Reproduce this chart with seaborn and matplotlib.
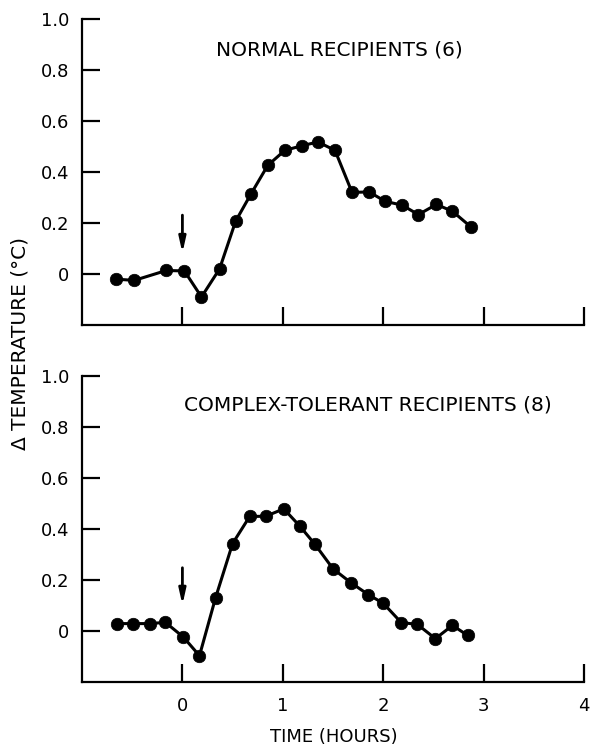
import matplotlib
matplotlib.use("Agg")
import matplotlib.pyplot as plt
import seaborn as sns
import pandas as pd

# ---- data ----
normal_time = [-0.66, -0.48, -0.16, 0.02, 0.19, 0.37, 0.53, 0.68, 0.85, 1.02, 1.19,
               1.35, 1.52, 1.69, 1.86, 2.02, 2.19, 2.35, 2.53, 2.69, 2.87]
normal_temp = [-0.02, -0.025, 0.014, 0.012, -0.09, 0.02, 0.207, 0.312, 0.426, 0.485, 0.503,
               0.518, 0.485, 0.32, 0.322, 0.285, 0.27, 0.233, 0.273, 0.246, 0.186]

tolerant_time = [-0.65, -0.49, -0.32, -0.17, 0.01, 0.17, 0.33, 0.5, 0.67, 0.83, 1.01,
                 1.17, 1.32, 1.5, 1.68, 1.85, 2.0, 2.18, 2.34, 2.52, 2.69, 2.84]
tolerant_temp = [0.029, 0.029, 0.029, 0.034, -0.024, -0.097, 0.13, 0.343, 0.449, 0.45, 0.479,
                 0.411, 0.34, 0.244, 0.189, 0.143, 0.109, 0.033, 0.026, -0.03, 0.022, -0.017]

panel_titles = ["NORMAL RECIPIENTS (6)", "COMPLEX-TOLERANT RECIPIENTS (8)"]
x_ticks = [0, 1, 2, 3, 4]
x_ticklabels = ["0", "1", "2", "3", "4"]
y_ticks = [0, 0.2, 0.4, 0.6, 0.8, 1.0]
y_ticklabels = ["0", "0.2", "0.4", "0.6", "0.8", "1.0"]
arrow_time = 0
arrow_spans = [(0.231, 0.082), (0.248, 0.102)]

sns.set_style("ticks")
plt.rcParams["font.family"] = ["DejaVu Sans"]
plt.rcParams.update({"text.color": "black", "axes.labelcolor": "black",
                     "xtick.color": "black", "ytick.color": "black",
                     "axes.edgecolor": "black"})

fig = plt.figure(figsize=(5.93, 7.46), dpi=100)
ax_top = fig.add_axes([0.1383, 0.5643, 0.8465, 0.4102])
ax_bot = fig.add_axes([0.1383, 0.0858, 0.8465, 0.4102])

datasets = [
    pd.DataFrame({"time": normal_time, "temp": normal_temp}),
    pd.DataFrame({"time": tolerant_time, "temp": tolerant_temp}),
]
title_pos = [(0.512, 0.899), (0.570, 0.905)]

for i, (ax, df) in enumerate(zip([ax_top, ax_bot], datasets)):
    sns.lineplot(data=df, x="time", y="temp", ax=ax, color="black", marker="o",
                 markersize=9, markeredgecolor="black", markeredgewidth=0.5,
                 linewidth=2.2, sort=False)
    ax.set_xlim(-1, 4)
    ax.set_ylim(-0.2, 1.0)
    ax.set_xticks(x_ticks)
    ax.set_yticks(y_ticks)
    ax.set_yticklabels(y_ticklabels, fontsize=13)
    if i == 1:
        ax.set_xticklabels(x_ticklabels, fontsize=13)
    else:
        ax.set_xticklabels([])
    ax.set_xlabel("")
    ax.set_ylabel("")
    ax.tick_params(axis="both", direction="in", length=13, width=1.6, color="black",
                   labelcolor="black")
    ax.tick_params(axis="y", pad=9)
    ax.tick_params(axis="x", pad=11)
    for s in ["left", "bottom"]:
        ax.spines[s].set_linewidth(1.6)
        ax.spines[s].set_color("black")
    for s in ["top", "right"]:
        ax.spines[s].set_visible(False)
    ax.text(title_pos[i][0], title_pos[i][1], panel_titles[i], transform=ax.transAxes,
            ha="center", va="center", fontsize=14.5, color="black")
    y0, y1 = arrow_spans[i]
    ax.annotate("", xy=(arrow_time, y1), xytext=(arrow_time, y0),
                arrowprops=dict(arrowstyle="-|>,head_length=0.9,head_width=0.2",
                                color="black", lw=2.0, shrinkA=0, shrinkB=0))

fig.text(0.5624, 1 - 737 / 746, "TIME (HOURS)", ha="center", va="center", fontsize=13,
         color="black")
fig.text(20 / 593, 1 - 343 / 746, "Δ TEMPERATURE (°C)", ha="center", va="center",
         rotation=90, fontsize=14.5, color="black")

fig.savefig("out.png", dpi=100)
